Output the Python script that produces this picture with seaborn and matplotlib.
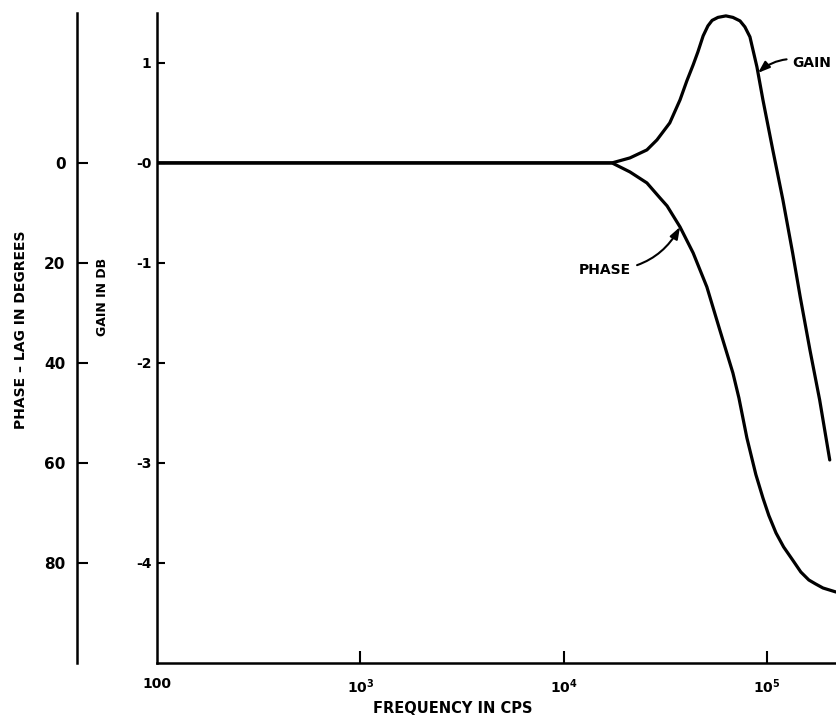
import numpy as np
import pandas as pd
import seaborn as sns
import matplotlib.pyplot as plt
from matplotlib.ticker import NullLocator

# gain curve (frequency in cps, gain in dB)
gain_freq = [100, 1000, 10000, 17300, 21200, 25700, 28800, 33300, 37400, 40400,
             43400, 45800, 48600, 51300, 53800, 57500, 62900, 68100, 73800,
             78000, 82600, 89400, 95700, 107000, 120000, 134000, 146000,
             163000, 182000, 204000]
gain_db = [0, 0, 0, 0, 0.05, 0.13, 0.23, 0.40, 0.63, 0.82,
           0.98, 1.11, 1.27, 1.37, 1.425, 1.455, 1.47, 1.455, 1.42,
           1.36, 1.26, 0.96, 0.63, 0.13, -0.37, -0.90, -1.34,
           -1.87, -2.37, -2.97]

# phase curve (frequency in cps, phase lag in degrees)
phase_freq = [100, 1000, 10000, 17300, 21200, 25700, 29800, 32300, 37400, 43400,
              50700, 58700, 68100, 72900, 79800, 88300, 95700, 102300, 111000,
              121000, 134000, 147000, 161000, 174000, 189000, 219000]
phase_deg = [0, 0, 0, 0, 1.8, 4.0, 7.0, 8.6, 12.8, 18.0,
             24.8, 33.4, 42.0, 47.0, 55.0, 62.3, 67.0, 70.5, 74.0,
             76.8, 79.4, 81.8, 83.4, 84.2, 85.0, 85.8]

x_ticks = [100, 1e3, 1e4, 1e5]
x_labels = ['100', r'$\mathbf{10^{3}}$', r'$\mathbf{10^{4}}$', r'$\mathbf{10^{5}}$']
gain_ticks = [1, 0, -1, -2, -3, -4]
gain_labels = ['1', '-0', '-1', '-2', '-3', '-4']
phase_ticks = [0, 20, 40, 60, 80]

sns.set_style('ticks')
plt.rcParams['font.family'] = ['DejaVu Sans']
plt.rcParams['mathtext.fontset'] = 'dejavusans'
for key in ['text.color', 'axes.labelcolor', 'xtick.color', 'ytick.color', 'axes.edgecolor']:
    plt.rcParams[key] = 'black'

df_gain = pd.DataFrame({'freq': gain_freq, 'gain': gain_db})
df_phase = pd.DataFrame({'freq': phase_freq, 'phase': phase_deg})

fig = plt.figure(figsize=(8.36, 7.16), dpi=100)
ax = fig.add_axes([0.188, 0.074, 0.812, 0.908])

sns.lineplot(data=df_gain, x='freq', y='gain', ax=ax, color='black', lw=2.3)
ax.set_xscale('log')
ax.set_xlim(100, 2.19e5)
ax.set_ylim(-5, 1.5)

# phase axis: 20 degrees per dB, increasing downward
ax2 = ax.twinx()
sns.lineplot(data=df_phase, x='freq', y='phase', ax=ax2, color='black', lw=2.3)
ax2.set_ylim(100, -30)
ax2.set_xlim(100, 2.19e5)

for s in ['top', 'right']:
    ax.spines[s].set_visible(False)
for s in ['top', 'right', 'bottom']:
    ax2.spines[s].set_visible(False)
ax2.spines['left'].set_visible(True)
ax2.spines['left'].set_position(('outward', 58))
ax.spines['left'].set_linewidth(1.8)
ax.spines['bottom'].set_linewidth(1.8)
ax2.spines['left'].set_linewidth(1.8)

ax.set_xticks(x_ticks)
ax.set_xticklabels(x_labels, fontsize=10, fontweight='bold')
ax.xaxis.set_minor_locator(NullLocator())
ax.xaxis.get_major_ticks()[0].tick1line.set_visible(False)
ax.tick_params(axis='x', direction='in', length=9, width=1.5, pad=10)

ax.set_yticks(gain_ticks)
ax.set_yticklabels(gain_labels, fontsize=10, fontweight='bold')
ax.tick_params(axis='y', direction='in', length=6, width=1.5, pad=4)

ax2.yaxis.set_ticks_position('left')
ax2.yaxis.set_label_position('left')
ax2.set_yticks(phase_ticks)
ax2.set_yticklabels([str(p) for p in phase_ticks], fontsize=11, fontweight='bold')
ax2.tick_params(axis='y', direction='in', length=8, width=1.5, pad=8)

ax.set_xlabel('FREQUENCY IN CPS', fontsize=10.5, fontweight='bold')
ax.xaxis.set_label_coords(0.436, -0.058)
ax.set_ylabel('GAIN IN DB', fontsize=9, fontweight='bold')
ax.yaxis.set_label_coords(-0.071, 0.563)
ax2.set_ylabel('PHASE – LAG IN DEGREES', fontsize=10, fontweight='bold')
ax2.yaxis.set_label_coords(-0.191, 0.512)

arrow = dict(arrowstyle='-|>,head_length=0.7,head_width=0.25', color='black', lw=1.5,
             connectionstyle='arc3,rad=0.3', shrinkB=0)
ax.annotate('GAIN', xy=(90500, 0.90), xytext=(1.67e5, 1.0), fontsize=10,
            fontweight='bold', ha='center', va='center', arrowprops=arrow)
ax2.annotate('PHASE', xy=(37400, 12.8), xytext=(1.6e4, 21.4), fontsize=10,
             fontweight='bold', ha='center', va='center', arrowprops=arrow)

fig.savefig('out.png', dpi=100)
